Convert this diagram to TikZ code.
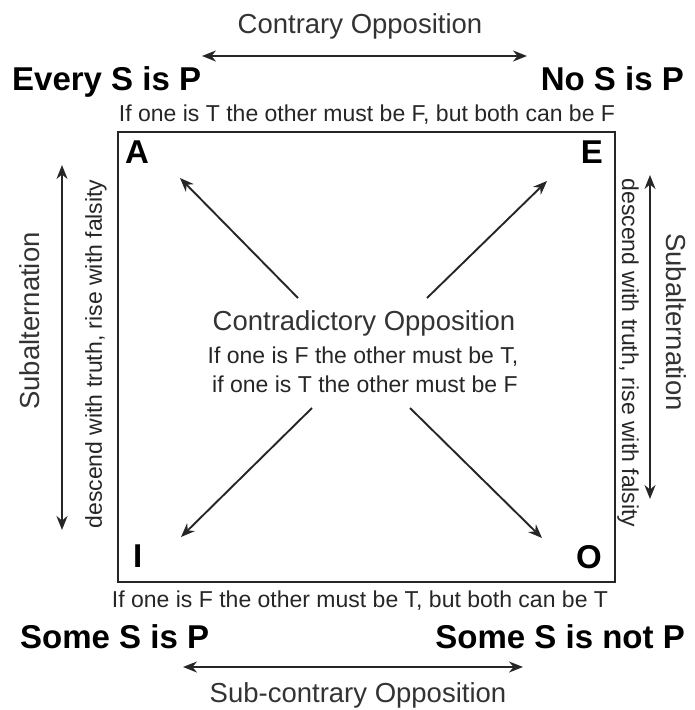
\documentclass[tikz,border=0pt]{standalone}
\usepackage{fontspec}
\setmainfont{Liberation Sans}
\usetikzlibrary{arrows.meta}
\begin{document}
\begin{tikzpicture}[x=1pt,y=-1pt,
  big/.style={font=\fontsize{33pt}{36pt}\selectfont\bfseries, inner sep=0pt, text=black},
  title/.style={font=\fontsize{27.5pt}{30pt}\selectfont, inner sep=0pt, text=black!80},
  small/.style={font=\fontsize{23pt}{26pt}\selectfont, inner sep=0pt, text=black!85},
  arr/.style={line width=1.9pt, draw=black!85, {Stealth[length=14pt,width=11pt]}-{Stealth[length=14pt,width=11pt]}},
  oarr/.style={line width=1.9pt, draw=black!85, -{Stealth[length=14pt,width=11pt]}},
]
\useasboundingbox (0,0) rectangle (695,710);
% square
\node[draw=black!85, line width=2.2pt, minimum width=497pt, minimum height=450pt, anchor=north west, inner sep=0pt] (sq) at (117,131) {};
% top
\node[title, anchor=base] (contrary) at (360,33) {Contrary Opposition};
\coordinate (ctl) at (202,56);
\coordinate (ctr) at (527,56);
\draw[arr] (ctl) -- (ctr);
\node[big, anchor=base west] (every) at (12,90) {Every S is P};
\node[big, anchor=base east] (no) at (684,90) {No S is P};
\node[small, anchor=base] (topnote) at (367,121) {If one is T the other must be F, but both can be F};
% corner letters
\node[big, anchor=base west] (A) at (125,163) {A};
\node[big, anchor=base east] (E) at (603,163) {E};
\node[big, anchor=base west] (I) at (133,567) {I};
\node[big, anchor=base east] (O) at (602,568) {O};
% centre
\node[title, anchor=base] (contra) at (364,330) {Contradictory Opposition};
\node[small, anchor=base] (c1) at (363,363) {If one is F the other must be T,};
\node[small, anchor=base] (c2) at (365,392) {if one is T the other must be F};
\coordinate (d1s) at (298,298); \coordinate (d1e) at (180,178);
\coordinate (d2s) at (427,298); \coordinate (d2e) at (547,181);
\coordinate (d3s) at (312,408); \coordinate (d3e) at (181,537);
\coordinate (d4s) at (410,408); \coordinate (d4e) at (542,538);
\draw[oarr] (d1s) -- (d1e);
\draw[oarr] (d2s) -- (d2e);
\draw[oarr] (d3s) -- (d3e);
\draw[oarr] (d4s) -- (d4e);
% left side
\node[title, rotate=90] (subl) at (30,321) {Subalternation};
\coordinate (lt) at (62,165);
\coordinate (lb) at (62,530);
\draw[arr] (lt) -- (lb);
\node[small, rotate=90] (descl) at (96,354) {descend with truth, rise with falsity};
% right side
\node[title, rotate=-90] (subr) at (676,322) {Subalternation};
\coordinate (rt) at (650,175);
\coordinate (rb) at (650,499);
\draw[arr] (rt) -- (rb);
\node[small, rotate=-90] (descr) at (628,353) {descend with truth, rise with falsity};
% bottom
\node[small, anchor=base] (botnote) at (360,607) {If one is F the other must be T, but both can be T};
\node[big, anchor=base west] (some) at (20,648) {Some S is P};
\node[big, anchor=base east] (somenot) at (685,648) {Some S is not P};
\coordinate (cbl) at (183,667);
\coordinate (cbr) at (523,667);
\draw[arr] (cbl) -- (cbr);
\node[title, anchor=base] (subc) at (358,702) {Sub-contrary Opposition};
\end{tikzpicture}
\end{document}
